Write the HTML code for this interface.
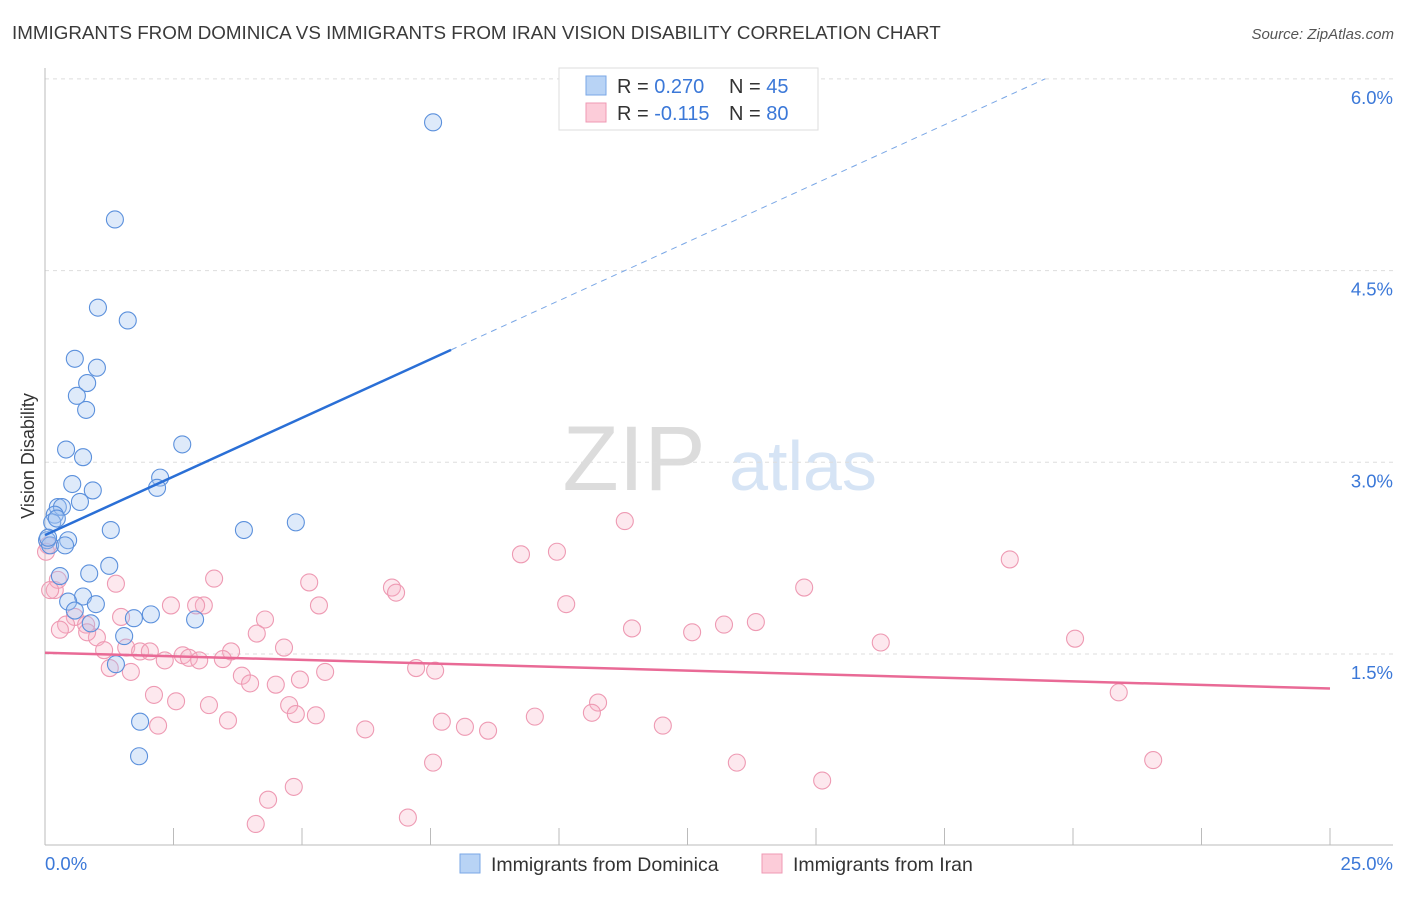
<!DOCTYPE html>
<html><head><meta charset="utf-8">
<style>
body{margin:0;background:#fff;font-family:"Liberation Sans",sans-serif;}
svg text{font-family:"Liberation Sans",sans-serif;}
</style></head>
<body>
<svg id="chart" width="1406" height="892" viewBox="0 0 1406 892" xmlns="http://www.w3.org/2000/svg">
<text x="12" y="39" font-size="18.8" fill="#3a3a3a">IMMIGRANTS FROM DOMINICA VS IMMIGRANTS FROM IRAN VISION DISABILITY CORRELATION CHART</text>
<text x="1394" y="39" font-size="15" fill="#555" font-style="italic" text-anchor="end">Source: ZipAtlas.com</text>
<g>
<text x="634" y="490" font-size="92" fill="#dcdcdc" font-family="Liberation Serif" text-anchor="middle">ZIP</text>
<text x="803" y="490" font-size="70" fill="#d6e4f5" text-anchor="middle">atlas</text>
</g>
<g id="grid"></g>
<g id="axes"></g>
<g id="pts"></g>
<g id="trend"></g>
<text transform="translate(34,456) rotate(-90)" font-size="18" fill="#333" text-anchor="middle">Vision Disability</text>
<g>
<rect x="559" y="68" width="259" height="62" fill="#fff" stroke="#ddd"/>
<rect x="586" y="76" width="20" height="19" fill="#b8d3f5" stroke="#7aa7e6"/>
<rect x="586" y="103" width="20" height="19" fill="#fcccd9" stroke="#ef9ab4"/>
<text x="617" y="93" font-size="20" fill="#333">R = <tspan fill="#3b78d8">0.270</tspan></text>
<text x="729" y="93" font-size="20" fill="#333">N = <tspan fill="#3b78d8">45</tspan></text>
<text x="617" y="120" font-size="20" fill="#333">R = <tspan fill="#3b78d8">-0.115</tspan></text>
<text x="729" y="120" font-size="20" fill="#333">N = <tspan fill="#3b78d8">80</tspan></text>
</g>
<g>
<rect x="460" y="854" width="20" height="19" fill="#b8d3f5" stroke="#7aa7e6"/>
<text x="491" y="871" font-size="19.5" fill="#333">Immigrants from Dominica</text>
<rect x="762" y="854" width="20" height="19" fill="#fcccd9" stroke="#ef9ab4"/>
<text x="793" y="871" font-size="19.5" fill="#333">Immigrants from Iran</text>
</g>
</svg>
<script>
const yTicks=[1.5,3.0,4.5,6.0];
const yTickLabels=["1.5%","3.0%","4.5%","6.0%"];
const xTickLabels=["0.0%","25.0%"];
const blueX=[7.55,1.36,1.03,1.61,0.58,1.01,0.82,0.62,0.80,0.41,0.74,2.67,2.24,2.18,0.93,0.53,0.68,0.25,0.33,0.19,0.14,0.23,4.88,3.87,1.28,0.45,0.04,0.10,0.39,1.25,0.86,0.29,0.74,0.45,0.99,0.58,2.06,1.73,2.92,0.89,1.54,1.38,1.85,1.83,0.06];
const blueY=[5.66,4.90,4.21,4.11,3.81,3.74,3.62,3.52,3.41,3.10,3.04,3.14,2.88,2.80,2.78,2.83,2.69,2.65,2.65,2.59,2.53,2.56,2.53,2.47,2.47,2.39,2.39,2.35,2.35,2.19,2.13,2.11,1.95,1.91,1.89,1.84,1.81,1.78,1.77,1.74,1.64,1.42,0.97,0.70,2.41];
const pinkX=[11.28,9.96,9.26,18.77,3.29,5.14,6.75,6.83,14.77,1.38,0.19,0.25,10.14,5.33,2.45,3.09,2.94,1.48,4.28,0.58,0.41,0.80,0.29,1.01,11.42,12.59,13.21,13.83,16.26,20.04,4.12,4.65,1.58,1.15,1.85,2.04,2.68,2.80,3.00,3.62,2.33,3.46,1.26,1.67,7.22,7.59,5.45,3.83,3.99,4.49,4.96,2.12,2.55,3.19,4.75,4.88,5.27,10.76,10.64,20.89,3.56,2.20,6.23,7.72,8.17,8.62,9.53,12.02,7.55,13.46,15.12,21.56,4.84,4.34,4.10,7.06,0.82,0.06,0.10,0.02];
const pinkY=[2.54,2.30,2.28,2.24,2.09,2.06,2.02,1.98,2.02,2.05,2.00,2.08,1.89,1.88,1.88,1.88,1.88,1.79,1.77,1.79,1.73,1.73,1.69,1.63,1.70,1.67,1.73,1.75,1.59,1.62,1.66,1.55,1.55,1.53,1.52,1.52,1.49,1.47,1.45,1.52,1.45,1.46,1.39,1.36,1.39,1.37,1.36,1.33,1.27,1.26,1.30,1.18,1.13,1.10,1.10,1.03,1.02,1.12,1.04,1.20,0.98,0.94,0.91,0.97,0.93,0.90,1.01,0.94,0.65,0.65,0.51,0.67,0.46,0.36,0.17,0.22,1.67,2.35,2.00,2.30];
const blueTrend=[2.43,0.1835]; // intercept, slope
const blueSolidEnd=7.9, blueDashEnd=19.46;
const pinkTrend=[1.51,-0.0112];
const NS="http://www.w3.org/2000/svg";
const X=v=>45+v/25*1285;
const Y=v=>654-(v-1.5)/1.5*191.7;
function mk(tag,attrs,parent){const e=document.createElementNS(NS,tag);for(const k in attrs)e.setAttribute(k,attrs[k]);parent.appendChild(e);return e;}
const grid=document.getElementById('grid'),axes=document.getElementById('axes'),pts=document.getElementById('pts'),trend=document.getElementById('trend');
yTicks.forEach((t,i)=>{
 const l=mk('line',{x1:45,x2:1393,y1:Y(t),y2:Y(t),stroke:'#ddd','stroke-dasharray':'4,4'},grid);
 
 
 const tx=mk('text',{x:1393,y:Y(t)+25,'font-size':18.5,fill:'#3b78d8','text-anchor':'end'},axes);
 tx.textContent=yTickLabels[i];
 
 
});
const la=mk('line',{x1:45,x2:45,y1:68,y2:845,stroke:'#bbb'},axes);


const ba=mk('line',{x1:45,x2:1393,y1:845,y2:845,stroke:'#bbb'},axes);


for(let i=0;i<=10;i++){
 const t=mk('line',{x1:X(i*2.5),x2:X(i*2.5),y1:828,y2:845,stroke:'#bbb'},axes);
 
 
}
const x0=mk('text',{x:45,y:870,'font-size':18.5,fill:'#3b78d8'},axes);x0.textContent=xTickLabels[0];


const x1=mk('text',{x:1393,y:870,'font-size':18.5,fill:'#3b78d8','text-anchor':'end'},axes);x1.textContent=xTickLabels[1];


pinkX.forEach((v,i)=>{
 const c=mk('circle',{cx:X(v),cy:Y(pinkY[i]),r:8.5,fill:'rgba(248,180,200,0.3)',stroke:'#ee9ab3','stroke-width':1.1},pts);
 
 
});
blueX.forEach((v,i)=>{
 const c=mk('circle',{cx:X(v),cy:Y(blueY[i]),r:8.5,fill:'rgba(160,195,240,0.35)',stroke:'#5b90dc','stroke-width':1.1},pts);
 
 
});
const bl=mk('line',{x1:X(0),y1:Y(blueTrend[0]),x2:X(blueSolidEnd),y2:Y(blueTrend[0]+blueTrend[1]*blueSolidEnd),stroke:'#2a6fd6','stroke-width':2.5},trend);


const bd=mk('line',{x1:X(blueSolidEnd),y1:Y(blueTrend[0]+blueTrend[1]*blueSolidEnd),x2:X(blueDashEnd),y2:Y(blueTrend[0]+blueTrend[1]*blueDashEnd),stroke:'#7aa7e6','stroke-width':1,'stroke-dasharray':'6,5'},trend);


const pl=mk('line',{x1:X(0),y1:Y(pinkTrend[0]),x2:X(25),y2:Y(pinkTrend[0]+pinkTrend[1]*25),stroke:'#e96a96','stroke-width':2.5},trend);


</script>
</body></html>
